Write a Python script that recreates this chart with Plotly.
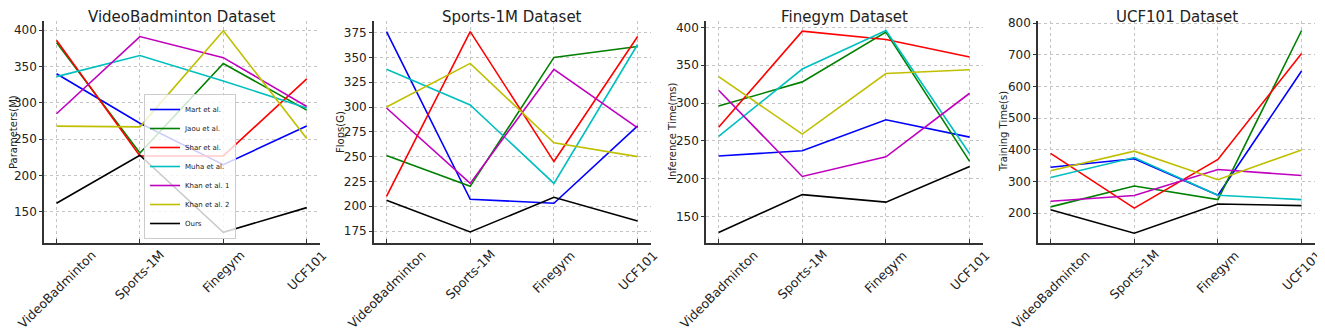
import plotly.graph_objects as go

categories = ["VideoBadminton", "Sports-1M", "Finegym", "UCF101"]
methods = ["Mart et al.", "Jaou et al.", "Shar et al.", "Muha et al.",
           "Khan et al. 1", "Khan et al. 2", "Ours"]
colors = ["#0000FF", "#008000", "#FF0000", "#00BFBF", "#BF00BF", "#BFBF00", "#000000"]

panel_titles = ["VideoBadminton Dataset", "Sports-1M Dataset", "Finegym Dataset", "UCF101 Dataset"]
y_titles = ["Parameters(M)", "Flops(G)", "Inference Time(ms)", "Training Time(s)"]

params_m = [
    [340, 272, 215, 268],
    [383, 231, 354, 290],
    [386, 227, 227, 333],
    [336, 365, 330, 293],
    [285, 391, 362, 295],
    [268, 267, 399, 251],
    [162, 228, 122, 156],
]
flops_g = [
    [376, 207, 203, 281],
    [251, 220, 350, 361],
    [210, 376, 245, 371],
    [338, 302, 223, 363],
    [299, 223, 338, 279],
    [300, 344, 264, 250],
    [206, 174, 209, 185],
]
inference_ms = [
    [230, 237, 278, 255],
    [296, 328, 394, 223],
    [268, 395, 384, 361],
    [256, 345, 396, 233],
    [317, 203, 229, 313],
    [335, 259, 339, 344],
    [129, 179, 169, 216],
]
training_s = [
    [345, 372, 257, 649],
    [220, 286, 243, 777],
    [389, 216, 370, 704],
    [313, 376, 257, 243],
    [238, 256, 338, 319],
    [334, 396, 306, 400],
    [211, 137, 229, 224],
]
panels = [params_m, flops_g, inference_ms, training_s]

y_ranges = [[107.4, 412.4], [162.9, 386.7], [115, 408.5], [106, 807]]
y_dticks = [50, 25, 50, 100]
x_domains = [[0.0, 0.2172], [0.2596, 0.4776], [0.5209, 0.7388], [0.7821, 1.0]]
y_title_shift = [-31, -34, -34, -35]

FONT = "DejaVu Sans"
fig = go.Figure()

for p, data in enumerate(panels):
    xa = "x" if p == 0 else f"x{p+1}"
    ya = "y" if p == 0 else f"y{p+1}"
    for i, (name, vals) in enumerate(zip(methods, data)):
        fig.add_trace(go.Scatter(
            x=categories, y=vals, mode="lines", name=name,
            line=dict(color=colors[i], width=1.6),
            xaxis=xa, yaxis=ya, showlegend=(p == 0),
        ))
    axis_common = dict(showline=True, linecolor="#333333", linewidth=1.6,
                       showgrid=True, gridcolor="#c4c4c4", griddash="dot", gridwidth=1,
                       zeroline=False, automargin=False)
    fig.layout[("xaxis" if p == 0 else f"xaxis{p+1}")] = dict(
        domain=x_domains[p], anchor=ya, type="category",
        categoryorder="array", categoryarray=categories,
        range=[-0.15, 3.16], showticklabels=False,
        ticks="inside", ticklen=4, tickcolor="#333333", **axis_common)
    fig.layout[("yaxis" if p == 0 else f"yaxis{p+1}")] = dict(
        domain=[0, 1], anchor=xa, range=y_ranges[p], dtick=y_dticks[p], tick0=0,
        ticks="outside", ticklen=3, tickcolor="#333333",
        tickfont=dict(family=FONT, size=12, color="#222222"),
        **axis_common)
    # y-axis title
    fig.add_annotation(text=y_titles[p], xref=f"{xa} domain", yref=f"{ya} domain",
                       x=0, y=0.5, xshift=y_title_shift[p], xanchor="center", yanchor="middle",
                       textangle=-90, showarrow=False, borderpad=0,
                       font=dict(family=FONT, size=10, color="#222222"))
    # panel title
    fig.add_annotation(text=panel_titles[p], xref=f"{xa} domain", yref="paper",
                       x=0.5, y=1, yshift=-6, xanchor="center", yanchor="bottom",
                       showarrow=False, borderpad=0,
                       font=dict(family=FONT, size=15, color="#222222"))
    # rotated category labels centred under each tick
    for c in categories:
        fig.add_annotation(text=c, xref=xa, yref="paper", x=c, y=0, yshift=-3,
                           xanchor="center", yanchor="top", textangle=-45,
                           showarrow=False, borderpad=0,
                           font=dict(family=FONT, size=12.5, color="#222222"))

# the page body adds an 8px offset, so margins are shifted to compensate
fig.update_layout(
    template="none",
    width=1325, height=331,
    margin=dict(l=36, r=18, t=13, b=96, autoexpand=False),
    paper_bgcolor="white", plot_bgcolor="white",
    showlegend=True,
    legend=dict(x=0.0787, y=0.018, xanchor="left", yanchor="bottom",
                bgcolor="rgba(255,255,255,0.8)", bordercolor="#cccccc", borderwidth=1,
                font=dict(family=FONT, size=7, color="#222222"),
                itemwidth=30, tracegroupgap=0),
    font=dict(family=FONT),
)

fig.write_html("out.html")
